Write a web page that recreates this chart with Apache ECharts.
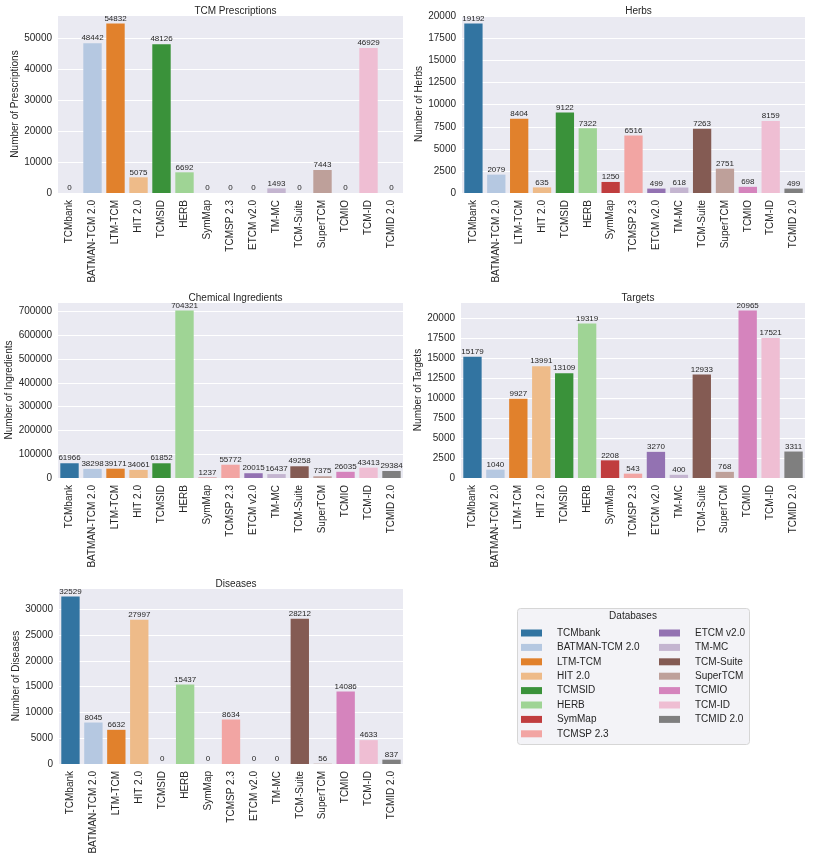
<!DOCTYPE html>
<html>
<head>
<meta charset="utf-8">
<script src="https://cdn.jsdelivr.net/npm/echarts@6/dist/echarts.min.js"></script>
<style>html,body{margin:0;padding:0;background:#fff}#c{width:813px;height:858px}</style>
</head>
<body>
<div id="c"></div>
<script>
const categories = ['TCMbank','BATMAN-TCM 2.0','LTM-TCM','HIT 2.0','TCMSID','HERB','SymMap','TCMSP 2.3','ETCM v2.0','TM-MC','TCM-Suite','SuperTCM','TCMIO','TCM-ID','TCMID 2.0'];
const prescriptions = [0,48442,54832,5075,48126,6692,0,0,0,1493,0,7443,0,46929,0];
const herbs = [19192,2079,8404,635,9122,7322,1250,6516,499,618,7263,2751,698,8159,499];
const ingredients = [61966,38298,39171,34061,61852,704321,1237,55772,20015,16437,49258,7375,26035,43413,29384];
const targets = [15179,1040,9927,13991,13109,19319,2208,543,3270,400,12933,768,20965,17521,3311];
const diseases = [32529,8045,6632,27997,0,15437,0,8634,0,0,28212,56,14086,4633,837];
const panelTitles = ['TCM Prescriptions','Herbs','Chemical Ingredients','Targets','Diseases'];
const yNames = ['Number of Prescriptions','Number of Herbs','Number of Ingredients','Number of Targets','Number of Diseases'];
const yIntervals = [10000,2500,100000,2500,5000];
const colors = ['#3274a1','#b5c8e1','#e1812c','#eebb89','#3a923a','#9fd495','#c03d3e','#f2a5a3','#9372b2','#c4b5d0','#845b53','#bea09a','#d584bd','#efbed3','#7f7f7f'];
const legendTitle = 'Databases';

const panelData = [prescriptions, herbs, ingredients, targets, diseases];
const grids = [
  {left:58, top:15, width:345, height:178},
  {left:462, top:15, width:343, height:178},
  {left:58, top:302, width:345, height:176},
  {left:461, top:302, width:344, height:176},
  {left:59, top:588, width:344, height:176}
];
const nameGaps = [35,37,41,36,35];
const FONT = '"Liberation Sans", Arial, sans-serif';
const TXT = '#262626';

const option = {
  animation:false,
  textStyle:{fontFamily:FONT},
  title: grids.map((g,i)=>({
    text: panelTitles[i], left: g.left + g.width/2, top: g.top - 14, textAlign:'center',
    textStyle:{fontSize:10, fontWeight:'normal', color:TXT, fontFamily:FONT}
  })),
  grid: grids.map(g=>Object.assign({show:true, backgroundColor:'#eaeaf2', borderWidth:0}, g)).concat([{left:0,top:0,width:1,height:1,show:false}]),
  xAxis: grids.map((g,i)=>({
    type:'category', gridIndex:i, data:categories,
    axisLine:{show:false}, axisTick:{show:false},
    axisLabel:{rotate:90, interval:0, fontSize:10, color:TXT, margin:7, fontFamily:FONT},
    splitLine:{show:false}
  })).concat([{type:'category', gridIndex:5, show:false, data:[]}]),
  yAxis: grids.map((g,i)=>({
    type:'value', gridIndex:i, min:0, max:Math.max(...panelData[i])*1.05, interval:yIntervals[i],
    name:yNames[i], nameLocation:'middle', nameGap:nameGaps[i],
    nameTextStyle:{fontSize:10, color:TXT, fontFamily:FONT},
    axisLine:{show:false}, axisTick:{show:false},
    axisLabel:{fontSize:10, color:TXT, margin:6, showMaxLabel:false, fontFamily:FONT, formatter:v=>String(Math.round(v))},
    splitLine:{lineStyle:{color:'#ffffff', width:1}}
  })).concat([{type:'value', gridIndex:5, show:false}]),
  legend: [
    {data:categories.slice(0,8), orient:'vertical', left:521, top:627, padding:0, itemWidth:21, itemHeight:7, itemGap:2.4,
     icon:'rect', selectedMode:false, textStyle:{fontSize:10, color:TXT, lineHeight:12, padding:[0,0,0,10], fontFamily:FONT}},
    {data:categories.slice(8), orient:'vertical', left:659, top:627, padding:0, itemWidth:21, itemHeight:7, itemGap:2.4,
     icon:'rect', selectedMode:false, textStyle:{fontSize:10, color:TXT, lineHeight:12, padding:[0,0,0,10], fontFamily:FONT}}
  ],
  graphic: [
    {type:'rect', left:517, top:608, z:-1, shape:{width:232, height:136, r:3}, style:{fill:'#f3f3f7', stroke:'#d6d6d6', lineWidth:1}},
    {type:'text', x:633, y:611, style:{text:legendTitle, fontSize:10, fill:TXT, fontFamily:FONT, align:'center'}}
  ],
  series: panelData.map((d,i)=>({
    type:'bar', xAxisIndex:i, yAxisIndex:i, barCategoryGap:'20%',
    data: d.map((v,j)=>({value:v, itemStyle:{color:colors[j]}})),
    label:{show:true, position:'top', distance:1, fontSize:8, color:TXT, fontFamily:FONT}
  })).concat(categories.map((c,j)=>({
    type:'scatter', name:c, xAxisIndex:5, yAxisIndex:5, data:[], itemStyle:{color:colors[j], opacity:1}
  })))
};
const chart = echarts.init(document.getElementById('c'), null, {renderer:'canvas'});
chart.setOption(option);
</script>
</body>
</html>
